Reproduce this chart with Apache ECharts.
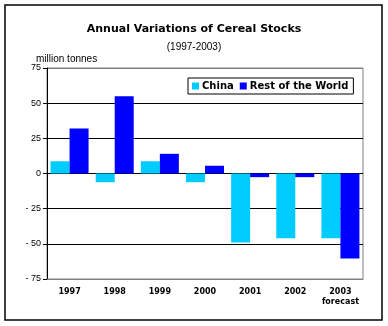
<!DOCTYPE html>
<html>
<head>
<meta charset="utf-8">
<script src="https://cdn.jsdelivr.net/npm/echarts@6/dist/echarts.min.js"></script>
<style>
  html, body { margin: 0; padding: 0; background: #fff; }
  #main { width: 388px; height: 326px; }
</style>
</head>
<body>
<div id="main"></div>
<script>
// data
var years = ['1997', '1998', '1999', '2000', '2001', '2002', '2003\nforecast'];
var china = [8.7, -6.2, 8.7, -6.2, -49, -46, -46];
var restOfWorld = [32, 55, 14, 5.5, -2.6, -2.6, -60.5];
var yTicks = [-75, -50, -25, 0, 25, 50, 75];

var chart = echarts.init(document.getElementById('main'));

// split line colours: edges are the grey plot border, the rest black
var lineColors = yTicks.map(function (v) {
    return (v === -75 || v === 75) ? '#808080' : '#000';
});

chart.setOption({
    animation: false,
    backgroundColor: '#fff',
    title: [{
        text: 'Annual Variations of Cereal Stocks',
        left: 'center',
        top: 19,
        textStyle: { fontFamily: 'DejaVu Sans', fontWeight: 'bold', fontSize: 11, color: '#000' }
    }, {
        text: '(1997-2003)',
        left: 'center',
        top: 37,
        textStyle: { fontFamily: 'Liberation Sans', fontWeight: 'normal', fontSize: 10, color: '#000' }
    }, {
        text: 'million tonnes',
        left: 31,
        top: 49,
        textStyle: { fontFamily: 'Liberation Sans', fontWeight: 'normal', fontSize: 10, color: '#000' }
    }],
    legend: {
        left: 188,
        top: 78,
        padding: [3, 5, 3, 4],
        itemGap: 6,
        itemWidth: 7,
        itemHeight: 7,
        icon: 'rect',
        borderColor: '#000',
        borderWidth: 1,
        backgroundColor: '#fff',
        textStyle: { fontFamily: 'DejaVu Sans', fontWeight: 'bold', fontSize: 10, color: '#000', padding: [0, 0, 0, -2] },
        data: ['China', 'Rest of the World']
    },
    grid: {
        left: 47,
        right: 25,
        top: 68,
        bottom: 47,
        show: true,
        borderColor: '#808080',
        borderWidth: 1
    },
    xAxis: {
        type: 'category',
        data: years,
        axisLine: { onZero: false, lineStyle: { color: '#808080' } },
        axisTick: { show: false },
        axisLabel: {
            interval: 0,
            margin: 8,
            color: '#000',
            fontFamily: 'DejaVu Sans',
            fontWeight: 'bold',
            fontSize: 8,
            lineHeight: 10
        }
    },
    yAxis: {
        type: 'value',
        min: -75,
        max: 75,
        interval: 25,
        axisLine: { show: true, lineStyle: { color: '#000' } },
        axisTick: { show: true, length: 4, lineStyle: { color: '#000' } },
        axisLabel: {
            margin: 6,
            color: '#000',
            fontFamily: 'Liberation Sans',
            fontSize: 9,
            formatter: function (v) { return v < 0 ? '- ' + Math.abs(v) : String(v); }
        },
        splitLine: { show: true, lineStyle: { color: lineColors, width: 1 } }
    },
    series: [{
        name: 'China',
        type: 'bar',
        data: china,
        barWidth: 19,
        barGap: '0%',
        itemStyle: { color: '#00CCFF' }
    }, {
        name: 'Rest of the World',
        type: 'bar',
        data: restOfWorld,
        barWidth: 19,
        barGap: '0%',
        itemStyle: { color: '#0000FF' }
    }],
    graphic: [{
        type: 'rect',
        shape: { x: 5, y: 5, width: 377, height: 315 },
        style: { fill: null, stroke: '#000', lineWidth: 1.5 },
        silent: true
    }]
});
</script>
</body>
</html>
